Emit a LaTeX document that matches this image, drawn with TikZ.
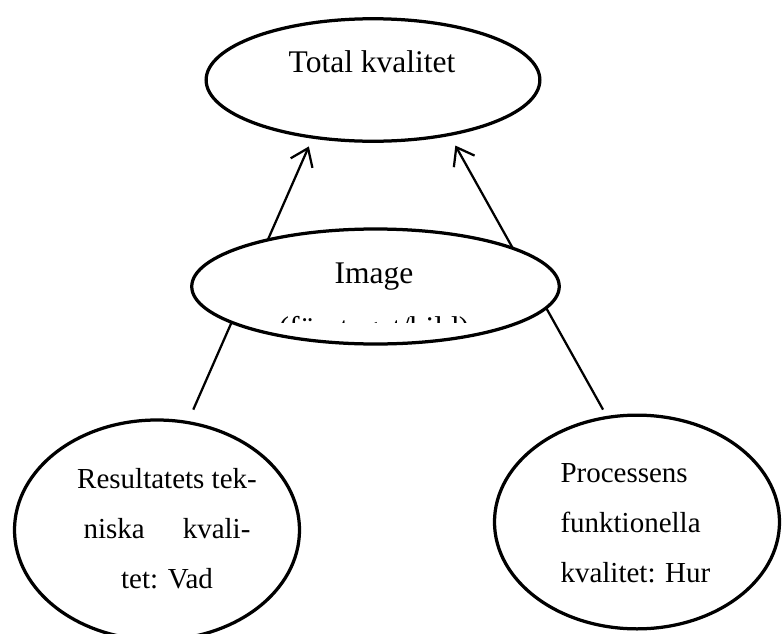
\documentclass[tikz,border=0pt]{standalone}
\usepackage{fontspec}
\setmainfont{Liberation Serif}
\usetikzlibrary{shapes.geometric,arrows.meta}

\begin{document}
\begin{tikzpicture}[
  x=0.4pt, y=-0.4pt,
  myellipse/.style={draw,ellipse,line width=1.3pt,inner sep=0pt},
  mytext/.style={inner sep=0pt,font=\fontsize{12.6}{20}\selectfont},
  mysmall/.style={inner sep=0pt,font=\fontsize{11.6}{20}\selectfont},
  myline/.style={draw,line width=0.9pt,-{Straight Barb[length=6.5pt,width=9.5pt]}}]
\useasboundingbox (0,0) rectangle (782,634);

\node[myellipse, minimum width=133.5pt, minimum height=49pt] (tk) at (373,80) {};
\node[myellipse, minimum width=114pt, minimum height=88pt] (rt) at (157,530) {};
\node[myellipse, minimum width=114pt, minimum height=85.5pt] (pf) at (637,522) {};

\draw[myline, shorten <=5pt, shorten >=3.4pt] (rt.74.5) -- (tk.224);
\draw[myline, shorten <=2.9pt, shorten >=4.4pt] (pf.106) -- (tk.324.5);

\node[myellipse, fill=white, minimum width=147pt, minimum height=46pt] (im) at (375.5,286.5) {};

% texts
\node[mytext, anchor=base] (tk-t) at (372,72) {Total kvalitet};
\node[mytext, anchor=base] (im-t) at (374,283) {Image};
\begin{scope}
  \clip (190,228) rectangle (561,322);
  \node[mytext, anchor=base] (im-u) at (374,338) {(företaget/bild)};
\end{scope}
\node[mysmall, anchor=north, align=center] (rt-t) at (167,468) {Resultatets tek-\\niska\hspace{15.2pt}kvali-\\tet: Vad};
\node[mysmall, anchor=north west, align=left] (pf-t) at (560,462.8) {Processens\\funktionella\\kvalitet: Hur};

\end{tikzpicture}
\end{document}
